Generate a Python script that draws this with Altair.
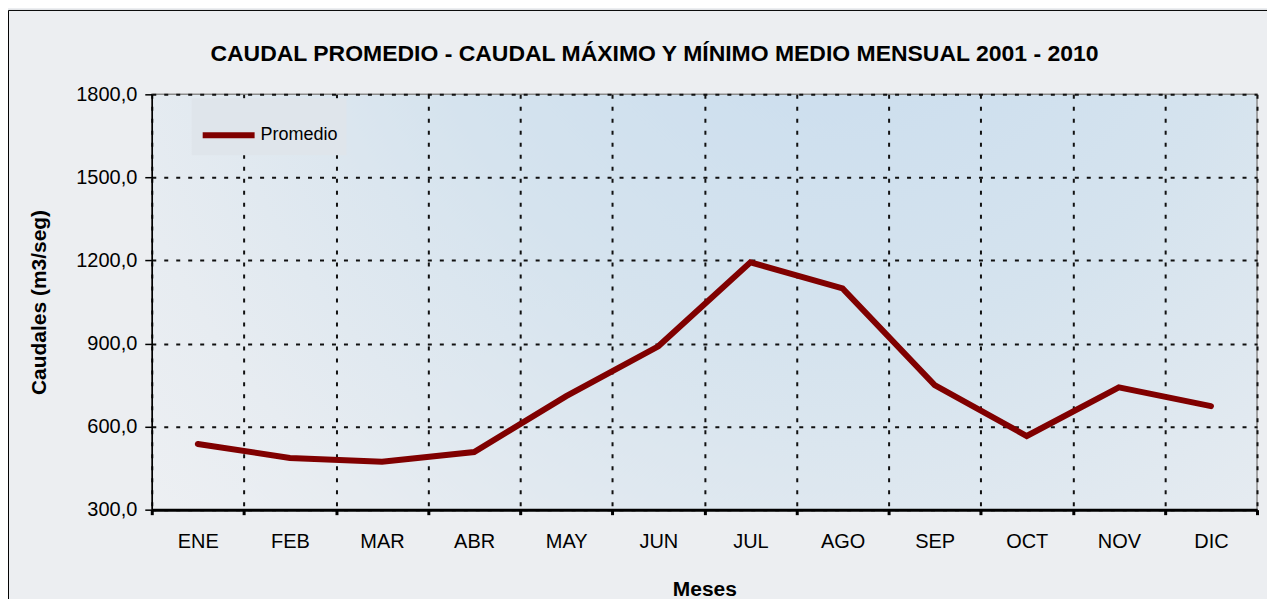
import altair as alt
import pandas as pd

meses = ["ENE", "FEB", "MAR", "ABR", "MAY", "JUN", "JUL", "AGO", "SEP", "OCT", "NOV", "DIC"]
promedio = [537, 487, 473, 508, 710, 890, 1193, 1099, 750, 566, 742, 674]
serie = ["Promedio"] * len(meses)
y_ticks = [300, 600, 900, 1200, 1500, 1800]

titulo = "CAUDAL PROMEDIO - CAUDAL MÁXIMO Y MÍNIMO MEDIO MENSUAL 2001 - 2010"

df = pd.DataFrame({"mes": meses, "caudal": promedio, "serie": serie})

W, H = 1107, 416
FONT = "Liberation Sans"

bg_expr = (
    "{gradient: 'radial', x1: 0.62, y1: 0.15, r1: 0, x2: 0.62, y2: 0.15, r2: 0.85, "
    "stops: [{offset: 0, color: '#c8dcee'}, {offset: 0.45, color: '#d5e3ee'}, "
    "{offset: 0.8, color: '#e7ecf1'}, {offset: 1, color: '#eef0f3'}]}"
)

line = alt.Chart(df).mark_line(strokeWidth=6, strokeJoin="miter", strokeCap="round").encode(
    x=alt.X(
        "mes:N",
        sort=meses,
        bandPosition=0.5,
        scale=alt.Scale(type="band", paddingInner=0, paddingOuter=0),
        axis=alt.Axis(
            title="Meses",
            titleFont=FONT,
            titleFontSize=21,
            titleFontWeight="bold",
            titleColor="#000",
            titleX=W / 2,
            titleY=86,
            titleBaseline="alphabetic",
            labelFont=FONT,
            labelFontSize=20,
            labelColor="#000",
            labelAngle=0,
            labelPadding=33,
            labelBaseline="alphabetic",
            tickBand="extent",
            tickSize=5,
            tickWidth=3,
            tickColor="#000",
            domainColor="#000",
            domainWidth=3,
            grid=True,
            gridDash=[4, 8],
            gridColor="#111",
            gridWidth=2,
            zindex=0,
        ),
    ),
    y=alt.Y(
        "caudal:Q",
        scale=alt.Scale(domain=[300, 1800], nice=False, zero=False),
        axis=alt.Axis(
            title="Caudales (m3/seg)",
            titleFont=FONT,
            titleFontSize=21,
            titleFontWeight="bold",
            titleColor="#000",
            titleX=-106,
            titleY=H / 2,
            titleBaseline="alphabetic",
            values=y_ticks,
            labelExpr="replace(format(datum.value, '.1f'), '.', ',')",
            labelFont=FONT,
            labelFontSize=20,
            labelColor="#000",
            labelPadding=8,
            tickSize=7,
            tickWidth=1.5,
            tickColor="#000",
            domainColor="#000",
            domainWidth=1.5,
            grid=True,
            gridDash=[4, 8],
            gridColor="#111",
            gridWidth=2,
            zindex=0,
        ),
    ),
    color=alt.Color(
        "serie:N",
        scale=alt.Scale(range=["#800000"]),
        legend=alt.Legend(
            title=None,
            orient="none",
            legendX=40,
            legendY=4,
            symbolType="stroke",
            symbolSize=2704,
            symbolStrokeWidth=6,
            labelFont=FONT,
            labelFontSize=18,
            labelColor="#000",
            labelOffset=3,
            padding=8,
            fillColor="#dfe5eb",
        ),
    ),
)

border = alt.Chart(pd.DataFrame({"k": [0]})).mark_rect(
    fill="transparent", stroke="#000", strokeWidth=1
).encode(
    x=alt.value(-143.5),
    x2=alt.value(W + 40),
    y=alt.value(-84),
    y2=alt.value(H + 140),
)

chart = (
    alt.layer(line, border)
    .properties(
        width=W,
        height=H,
        autosize=alt.AutoSizeParams(type="none"),
        padding={"left": 144, "top": 86, "right": 10, "bottom": 89},
        background="#eceef1",
        view={"fill": {"expr": bg_expr}, "stroke": "#8c8c8c", "strokeWidth": 1.5},
        title=alt.TitleParams(
            titulo,
            font=FONT,
            fontSize=23,
            fontWeight="bold",
            color="#000",
            anchor="middle",
            frame="group",
            dx=-50,
            offset=-74,
            baseline="alphabetic",
        ),
    )
)

chart.save("out.html", embed_options={"renderer": "svg", "actions": False})
